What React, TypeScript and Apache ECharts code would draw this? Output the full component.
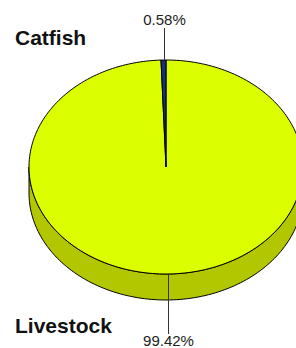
import React, { useEffect, useRef } from "react";
import * as echarts from "echarts";

const categories = ["Livestock", "Catfish"];
const values = [99.42, 0.58];
const topColors = ["#dcff00", "#14307f"];
const sideColors = ["#b2c700", "#0c1f55"];

const FONT = "'Liberation Sans', Arial, Helvetica, sans-serif";

export default function App() {
  const ref = useRef<HTMLDivElement>(null);
  useEffect(() => {
    const chart = echarts.init(ref.current!, null, { renderer: "svg" });
    const total = values.reduce((a, b) => a + b, 0);
    const cx = 166, cy = 167, rx = 137, ry = 107, h = 26;
    const cum: number[] = [0];
    values.forEach((v, i) => cum.push(cum[i] + v));
    const ang = (c: number) => 90 - (c / total) * 360;
    const pt = (deg: number, dy = 0) => {
      const r = (deg * Math.PI) / 180;
      return [cx + rx * Math.cos(r), cy - ry * Math.sin(r) + dy];
    };
    const arc = (from: number, to: number, dy = 0) => {
      const n = Math.max(2, Math.ceil(Math.abs(to - from) / 1.5));
      const pts: number[][] = [];
      for (let k = 0; k <= n; k++) pts.push(pt(from + ((to - from) * k) / n, dy));
      return pts;
    };

    const renderItem = (params: any) => {
      const i = params.dataIndex;
      const a0 = ang(cum[i]);
      const a1 = ang(cum[i + 1]);
      const children: any[] = [];
      // side walls (front half only)
      for (let k = -2; k <= 1; k++) {
        const lo = Math.max(a1, k * 360 - 180);
        const hi = Math.min(a0, k * 360);
        if (hi > lo) {
          const topArc = arc(hi, lo);
          const botArc = arc(lo, hi, h);
          children.push({
            type: "polygon",
            shape: { points: topArc.concat(botArc) },
            style: { fill: sideColors[i], stroke: "#000", lineWidth: 1 },
          });
        }
      }
      // top face
      children.push({
        type: "polygon",
        shape: { points: [[cx, cy]].concat(arc(a0, a1)) },
        style: { fill: topColors[i], stroke: "#000", lineWidth: 1, lineJoin: "round" },
      });
      // label line and percent label
      const m = (a0 + a1) / 2;
      const p = pt(m);
      const up = Math.sin((m * Math.PI) / 180) > 0;
      const pct = ((values[i] / total) * 100).toFixed(2) + "%";
      const lx = Math.round(p[0]) + 0.5;
      children.push({
        type: "line",
        shape: { x1: lx, y1: p[1], x2: lx, y2: up ? 28 : 334 },
        style: { stroke: "#333", lineWidth: 1 },
      });
      children.push({
        type: "text",
        style: {
          text: pct,
          x: lx,
          y: up ? 19.8 : 340.8,
          align: "center",
          verticalAlign: "middle",
          fontSize: 15,
          lineHeight: 14,
          fontFamily: FONT,
          fill: "#222",
        },
      });
      // category name
      children.push({
        type: "text",
        style: {
          text: categories[i],
          x: 15,
          y: up ? 37.6 : 325.6,
          align: "left",
          verticalAlign: "middle",
          fontSize: 21,
          fontWeight: "bold",
          fontFamily: FONT,
          fill: "#111",
        },
      });
      return { type: "group", children };
    };

    chart.setOption({
      animation: false,
      series: [
        {
          type: "custom",
          coordinateSystem: "none",
          silent: true,
          renderItem,
          data: values.map((v, i) => ({ value: v, name: categories[i] })),
        },
      ],
    });
    return () => chart.dispose();
  }, []);
  return (
    <div
      ref={ref}
      style={{ position: "absolute", left: 0, top: 0, width: 296, height: 348, background: "#fff" }}
    />
  );
}
